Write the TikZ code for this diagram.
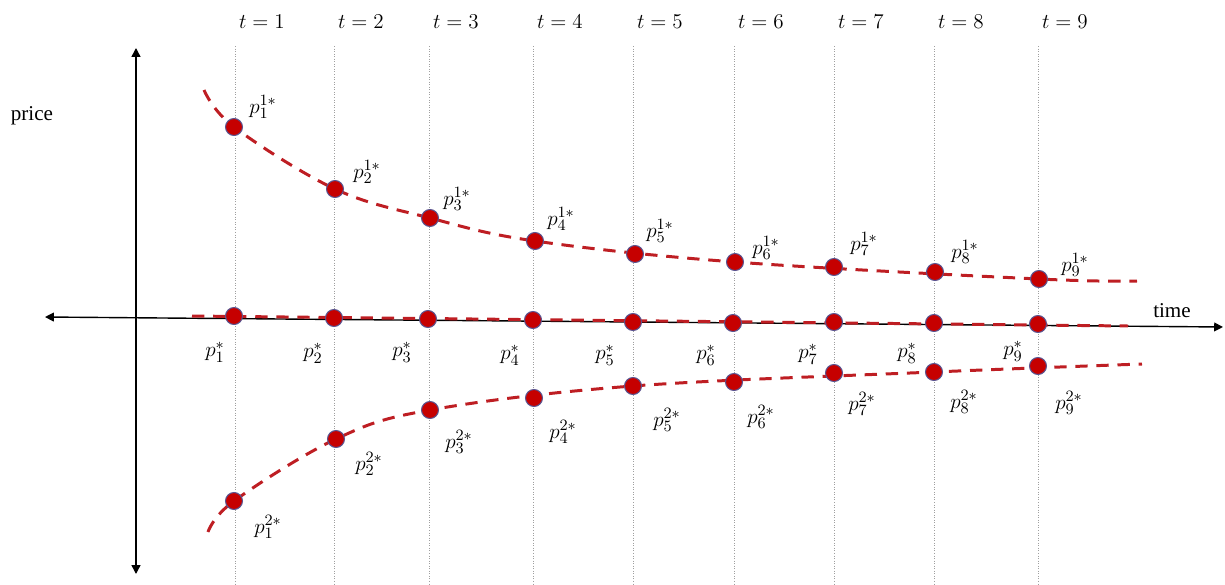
\documentclass[tikz,border=0pt]{standalone}
\usepackage{fontspec}
\setmainfont{Liberation Serif}
\usetikzlibrary{positioning,arrows.meta,calc,backgrounds}
\newcommand{\timeline}[3]{%
  % #1 name, #2 x, #3 label
  \node[tlab] (#1) at (#2+2,22) {#3};
  \coordinate (#1-top) at (#2,46);
  \coordinate (#1-bot) at (#2,585);
  \draw[vline] (#1-top) -- (#1-bot);
}
\newcommand{\pricept}[6]{%
  % #1 name, #2 x, #3 y, #4 label dx, #5 label dy, #6 label
  \node[dot] (#1) at (#2,#3) {};
  \node[plab] (#1-lab) at ($(#1)+(#4,#5)$) {#6};
}

\begin{document}
\begin{tikzpicture}[x=0.02cm, y=-0.02cm,
  vline/.style={draw=gray!75, densely dotted, line width=0.45pt},
  axis/.style={{Triangle[length=5pt,width=5pt]}-{Triangle[length=5pt,width=5pt]}, line width=0.8pt, draw=black},
  curve/.style={draw=curvecol, line width=1.7pt, dash pattern=on 7pt off 5pt},
  dot/.style={circle, fill=dotcol, draw=rimcol, line width=0.6pt, minimum size=0.34cm, inner sep=0pt},
  plab/.style={font=\fontsize{13}{15}\selectfont, inner sep=0.5pt},
  tlab/.style={font=\fontsize{13}{15}\selectfont, anchor=west, inner sep=1pt},
  alab/.style={font=\large}]

\definecolor{dotcol}{RGB}{198,0,0}
\definecolor{rimcol}{RGB}{90,85,145}
\definecolor{curvecol}{RGB}{190,30,35}

\useasboundingbox (0,0) rectangle (1225,585);

% ===== TIME GRID =====
\timeline{t1}{235}{$t = 1$}
\timeline{t2}{334}{$t = 2$}
\timeline{t3}{429}{$t = 3$}
\timeline{t4}{533}{$t = 4$}
\timeline{t5}{633}{$t = 5$}
\timeline{t6}{734}{$t = 6$}
\timeline{t7}{834}{$t = 7$}
\timeline{t8}{934}{$t = 8$}
\timeline{t9}{1038}{$t = 9$}

% ===== AXES =====
\coordinate (ax-top) at (136,48);
\coordinate (ax-bot) at (136,574);
\coordinate (ax-left) at (45,317);
\coordinate (ax-right) at (1223,327);
\node[alab] (price) at (32,116) {price};
\node[alab] (time) at (1172,311) {time};

% ===== UPPER PATH =====
\pricept{up1}{234}{127}{29}{-20}{$p_1^{1*}$}
\pricept{up2}{335}{189}{32}{-17}{$p_2^{1*}$}
\pricept{up3}{430}{218}{27}{-19}{$p_3^{1*}$}
\pricept{up4}{535}{241}{26}{-22}{$p_4^{1*}$}
\pricept{up5}{635}{254}{25}{-23}{$p_5^{1*}$}
\pricept{up6}{735}{262}{31}{-14}{$p_6^{1*}$}
\pricept{up7}{834}{267}{30}{-23}{$p_7^{1*}$}
\pricept{up8}{935}{272}{30}{-20}{$p_8^{1*}$}
\pricept{up9}{1039}{279}{36}{-14}{$p_9^{1*}$}
\coordinate (up-start) at (204,90);
\coordinate (up-end) at (1137,281);

% ===== STEADY PATH =====
\pricept{mid1}{234}{316}{-19}{36}{$p_1^{*}$}
\pricept{mid2}{334}{318}{-21}{35}{$p_2^{*}$}
\pricept{mid3}{428}{319}{-26}{33}{$p_3^{*}$}
\pricept{mid4}{533}{320}{-23}{35}{$p_4^{*}$}
\pricept{mid5}{633}{322}{-28}{33}{$p_5^{*}$}
\pricept{mid6}{733}{323}{-27}{32}{$p_6^{*}$}
\pricept{mid7}{834}{322}{-26}{32}{$p_7^{*}$}
\pricept{mid8}{934}{323}{-27}{30}{$p_8^{*}$}
\pricept{mid9}{1038}{324}{-25}{27}{$p_9^{*}$}
\coordinate (mid-start) at (192,316);
\coordinate (mid-end) at (1128,326);

% ===== LOWER PATH =====
\pricept{lo1}{234}{501}{34}{26}{$p_1^{2*}$}
\pricept{lo2}{336}{439}{33}{25}{$p_2^{2*}$}
\pricept{lo3}{430}{410}{29}{32}{$p_3^{2*}$}
\pricept{lo4}{534}{398}{29}{34}{$p_4^{2*}$}
\pricept{lo5}{633}{386}{34}{34}{$p_5^{2*}$}
\pricept{lo6}{734}{382}{27}{35}{$p_6^{2*}$}
\pricept{lo7}{834}{373}{28}{31}{$p_7^{2*}$}
\pricept{lo8}{934}{372}{30}{30}{$p_8^{2*}$}
\pricept{lo9}{1038}{366}{31}{37}{$p_9^{2*}$}
\coordinate (lo-start) at (208,532);
\coordinate (lo-end) at (1142,364);

% ===== LINES BEHIND THE DOTS =====
\begin{scope}[on background layer]
  \draw[axis] (ax-top) -- (ax-bot);
  \draw[axis] (ax-left) -- (ax-right);
  \draw[curve] (mid-start) -- (mid-end);
  \draw[curve] plot[smooth, tension=0.6] coordinates {(up-start) (up1.center) (up2.center) (up3.center) (up4.center) (up6.center) (up9.center) (up-end)};
  \draw[curve] plot[smooth, tension=0.6] coordinates {(lo-start) (lo1.center) (lo2.center) (lo3.center) (lo5.center) (lo8.center) (lo-end)};
\end{scope}

\end{tikzpicture}
\end{document}
